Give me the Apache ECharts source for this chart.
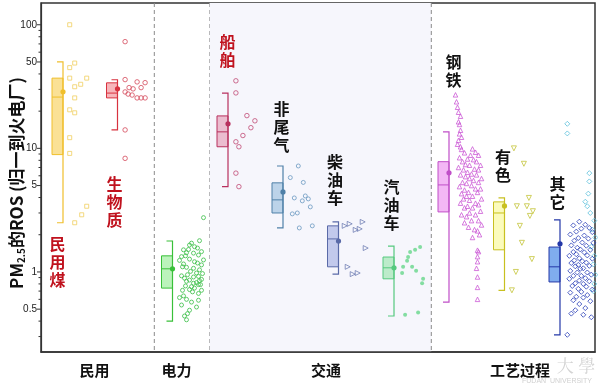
<!DOCTYPE html>
<html><head><meta charset="utf-8">
<script src="https://cdn.jsdelivr.net/npm/echarts@6/dist/echarts.min.js"></script>
<style>html,body{margin:0;padding:0;background:#fff}#c{width:598px;height:388px}</style>
</head><body><div id="c"></div>
<script>
// ---------- data ----------
const categories = ['民用煤','生物质','电力','船舶','非尾气','柴油车','汽油车','钢铁','有色','其它'];
const whiskerLow  = [2.5, 14.1, 0.40, 4.9, 2.27, 0.96, 0.44, 0.57, 0.71, 0.31];
const q1          = [8.9, 25.6, 0.74, 10.3, 3.0, 1.10, 0.88, 3.06, 1.51, 0.83];
const median      = [26, 28, 1.06, 13.6, 3.83, 1.85, 1.08, 5.06, 3.0, 1.10];
const q3          = [37, 33.9, 1.35, 18.3, 5.26, 2.36, 1.32, 7.8, 3.69, 1.59];
const whiskerHigh = [50, 35.9, 1.78, 28, 7.2, 2.54, 1.62, 13.6, 3.97, 2.64];
const means       = [28.7, 30.3, 1.06, 15.8, 4.44, 1.78, 1.08, 6.34, 3.42, 1.69];

const groupNames = ['民用','电力','交通','工艺过程'];
const groupFirst = [0, 2, 3, 7];
const groupLast  = [1, 2, 6, 9];

const yMajorTicks = [0.5, 1, 5, 10, 50, 100];
const yMajorLabels = ['0.5', '1', '5', '10', '50', '100'];
const yMinorTicks = [0.3,0.4,0.6,0.7,0.8,0.9,2,3,4,6,7,8,9,20,30,40,60,70,80,90];

// sample values per category
const ptsMinYongMei = [100, 49, 45, 37, 37, 33, 31.5, 25.6, 20.5, 19.4, 12.2, 9.1, 3.4, 2.9, 2.5];
const ptsShengWuZhi = [73, 36, 34.5, 34, 31, 30.3, 31, 28.6, 27.5, 27, 25.6, 25.6, 25.6, 14.1, 8.3];
const ptsDianLi = [2.75,1.79,1.71,1.65,1.60,1.51,1.56,1.46,1.43,1.42,1.37,1.33,1.25,1.24,1.27,1.21,1.16,1.14,1.09,1.07,
  1.04,1.01,0.98,0.95,0.93,0.91,0.87,0.86,0.84,0.82,0.79,0.76,0.74,0.72,0.71,0.67,0.64,0.62,0.60,0.59,
  0.54,0.49,0.46,0.44,0.41,0.85,0.81,0.89,0.79,0.71,1.52,1.35,1.18,1.10,0.97,0.92,0.77,0.69,0.57,0.52];
const ptsChuanBo = [35.2, 28.1, 18.4, 16.7, 14.7, 12.7, 11.3, 10.3, 6.3, 4.9];
const ptsFeiWeiQi = [7.2, 5.8, 5.3, 4.12, 3.97, 3.9, 3.76, 3.36, 3.0, 2.95, 2.36, 2.27];
const ptsChaiYou = [2.36, 2.45, 2.54, 2.19, 2.23, 1.56, 1.10, 0.96, 0.98];
const ptsQiYou = [1.59, 1.51, 1.45, 1.32, 1.23, 1.10, 0.98, 1.10, 1.02, 0.88, 0.81, 0.45, 0.47];
const ptsGangTie = [27.1,23.8,21.5,19.6,18.2,16.4,15.6,14.0,13.1,12.3,11.6,10.8,10.3,
  9.9,9.8,9.3,9.2,8.8,8.8,8.4,8.2,8.1,7.8,7.8,7.4,7.3,7.3,7.0,6.8,6.7,6.7,6.4,6.2,6.1,6.1,5.9,5.7,5.7,5.5,5.3,
  5.3,5.2,5.0,4.9,4.7,4.7,4.6,4.4,4.4,4.3,4.1,4.1,3.9,3.9,3.8,3.6,3.6,3.5,3.4,3.3,3.3,3.1,3.0,2.9,2.9,2.8,2.6,
  2.6,2.5,2.4,2.3,2.2,2.15,2.0,1.9,1.5,1.46,1.33,1.21,1.07,0.91,0.75,0.6];
const ptsYouSe = [10, 7.5, 3.4, 3.4, 3.97, 3.1, 2.84, 2.36, 1.72, 1.27, 1.0, 0.71];
const ptsQiTaDark = [2.55,2.41,2.38,2.27,2.24,2.12,2.10,2.01,1.97,1.88,1.86,1.79,1.73,1.72,1.64,1.63,1.57,1.52,1.51,1.45,
  1.44,1.39,1.36,1.35,1.29,1.28,1.24,1.22,1.19,1.18,1.14,1.12,1.11,1.07,1.06,1.02,0.99,0.99,0.95,0.93,
  0.93,0.89,0.88,0.85,0.84,0.81,0.80,0.77,0.76,0.73,0.72,0.69,0.68,0.65,0.63,0.62,0.59,0.58,0.55,0.51,
  0.49,0.46,0.45,0.43,0.31];
const ptsQiTaLight = [15.8, 13.2, 6.3, 5.4, 4.3, 3.7, 3.4, 3.0, 2.6, 2.2, 1.9, 1.6, 1.35, 1.15, 0.95, 0.8, 0.7];

// ---------- layout (pixel jitter of the strip points, label placement) ----------
const jitMinYongMei = [1,6,1,1,18,12,6,6,1,6,1,1,18,13,6];
const jitShengWuZhi = [1,1,13,21,5,9,17,1,4,8,13,17,21,1,1];
const jitDianLi = [24,20,12,10,15,4,18,22,7,14,19,2,24,0,10,15,4,22,7,14,20,11,17,8,2,14,22,10,7,17,
  19,12,15,10,22,19,4,0,7,19,2,10,8,5,7,20,14,5,21,3,9,6,18,3,23,19,6,13,12,17];
const jitChuanBo = [1,1,12,20,16,8,1,4,1,4];
const jitFeiWeiQi = [8,0,13,15,4,18,12,20,7,2,22,9];
const jitChaiYou = [-1,4,17,10,14,20,2,7,12];
const jitQiYou = [19,14,9,7,6,2,1,11,15,22,21,4,17];
const jitGangTie = [-1,0,1,2,4,2,3,4,3,5,2,1,4,
  16,5,19,8,14,22,3,11,17,6,20,9,24,13,2,18,7,22,11,15,4,20,9,25,13,17,6,22,10,15,3,19,24,8,12,21,5,16,10,25,7,
  13,19,4,22,11,16,8,24,13,5,19,10,22,15,8,25,12,18,21,23,16,21,22,21,21,20,21,21,21];
const jitYouSe = [2,12,5,15,17,21,18,8,10,20,4,0];
const jitQiTaDark = [12,18,6,22,14,9,25,3,17,11,21,7,15,26,4,19,10,13,23,6,17,9,20,2,12,25,7,15,19,4,
  11,22,8,16,13,3,20,10,24,6,14,18,2,12,22,8,16,5,19,11,25,14,3,20,9,16,6,23,12,18,8,4,16,24,0];
const jitQiTaLight = [0,0,22,22,21,18,20,23,27,25,28,24,27,26,28,27,26];

const catLabelText = ['民\n用\n煤','生\n物\n质',null,'船\n舶','非\n尾\n气','柴\n油\n车','汽\n油\n车','钢\n铁','有\n色','其\n它'];
const catLabelTop  = [2.0, 6.1, null, 86, 24.7, 9.2, 5.8, 59, 10.1, 6.1];
const catLabelDx   = [0, 2.5, 0, 5, 4, 2, 3, 10, 4, 3];
const catLabelRed  = [true, true, false, true, false, false, false, false, false, false];

const BOX_SHIFT = [-11.2, -12.1, -12.5, -12.4, -12.8, -12.7, -12.6, -13, -12.9, -12.8];
const BOX_HALF = 5.5;
const lineColors = ['#f0bf2c','#d8323f','#39c039','#b8305e','#4f80a8','#5a6aa8','#55c97e','#c04fc8','#c8c020','#2438a8'];
const fillColors = ['rgba(247,205,80,0.6)','rgba(240,120,130,0.55)','rgba(120,232,120,0.5)','rgba(225,140,170,0.55)',
  'rgba(150,188,220,0.6)','rgba(160,172,225,0.6)','rgba(150,228,168,0.6)','rgba(236,145,240,0.65)',
  'rgba(250,250,165,0.75)','rgba(85,145,232,0.75)'];

const FONT = '"Noto Sans CJK SC", "Liberation Sans", sans-serif';

function strip(name, idx, vals, jit, symbol, size, color, opts) {
  opts = opts || {};
  return {
    type: 'scatter', name: name, z: 3,
    symbol: symbol, symbolSize: size, symbolRotate: opts.rotate || 0,
    itemStyle: opts.filled ? { color: color, opacity: 0.85 } :
      { color: 'rgba(255,255,255,0)', borderColor: color, borderWidth: 1 },
    emphasis: { disabled: true },
    data: vals.map((v, k) => ({ value: [idx, v], symbolOffset: [(jit[k] != null ? jit[k] : 10), 0] }))
  };
}

const chart = echarts.init(document.getElementById('c'), null, { renderer: 'canvas' });

const option = {
  animation: false,
  backgroundColor: '#fff',
  grid: { left: 41, right: 3, top: 3, bottom: 36, show: true, borderColor: '#333', borderWidth: 1.5 },
  xAxis: {
    type: 'category', data: categories, boundaryGap: true,
    axisLine: { show: true, lineStyle: { color: '#333', width: 1.5 } },
    axisTick: { show: false }, axisLabel: { show: false }, splitLine: { show: false }
  },
  yAxis: {
    type: 'log', logBase: 10, min: 0.225, max: 150,
    axisLine: { show: true, lineStyle: { color: '#333', width: 1.2 } },
    axisTick: { show: false }, axisLabel: { show: false }, splitLine: { show: false }, minorTick: { show: false }
  },
  graphic: [
    { type: 'text', x: 17, y: 183, rotation: Math.PI / 2,
      style: { text: '{a|PM}{s|2.5}{a|的ROS (归一到火电厂)}', align: 'center', verticalAlign: 'middle',
        rich: { a: { fontSize: 17, fontWeight: 'bold', fontFamily: FONT, fill: '#111' },
                s: { fontSize: 10, fontWeight: 'bold', fontFamily: FONT, fill: '#111', verticalAlign: 'bottom', padding: [9, 0, 0, 0] } } } },
    { type: 'text', x: 576, y: 366, style: { text: '大 學', align: 'center', verticalAlign: 'middle', fontSize: 17, fontFamily: '"Noto Serif CJK SC", serif', fill: '#d4d4d4' } },
    { type: 'text', x: 557, y: 381, style: { text: 'FUDAN  UNIVERSITY', align: 'center', verticalAlign: 'middle', fontSize: 7, fontFamily: 'Liberation Sans', fill: '#d0d0d0' } }
  ],
  series: [
    {
      type: 'custom', name: 'sections', z: 0, silent: true, clip: false,
      data: groupNames.map((g, k) => [groupFirst[k], groupLast[k], k]),
      encode: { x: [0, 1] },
      renderItem(params, api) {
        const cs = params.coordSys;
        const bw = api.size([1, 1])[0];
        const first = api.value(0), last = api.value(1), k = api.value(2);
        const left = api.coord([first, 1])[0] - bw / 2 + 2.5;
        const right = api.coord([last, 1])[0] + bw / 2 + 2.5;
        const children = [];
        if (groupNames[k] === '交通') {
          children.push({ type: 'rect', shape: { x: left, y: cs.y, width: right - left, height: cs.height }, style: { fill: '#f6f6fc' } });
        }
        if (k < groupNames.length - 1) {
          children.push({ type: 'line', shape: { x1: right, y1: cs.y, x2: right, y2: cs.y + cs.height },
            style: { stroke: '#8a8a8a', lineWidth: 1, lineDash: [4, 3] } });
        }
        const cx = (api.coord([first, 1])[0] - bw / 2 + api.coord([last, 1])[0] + bw / 2) / 2;
        const shift = [-2, -3, 8, 8][k];
        children.push({ type: 'text', style: { x: cx + shift, y: cs.y + cs.height + 18, text: groupNames[k], align: 'center', verticalAlign: 'middle',
          fontSize: 15, fontWeight: 'bold', fontFamily: FONT, fill: '#111' } });
        return { type: 'group', children };
      }
    },
    {
      type: 'custom', name: 'yticks', z: 4, silent: true, clip: false,
      data: yMajorTicks.map((v, k) => [0, v, k, 1]).concat(yMinorTicks.map(v => [0, v, -1, 0])),
      encode: { x: 0, y: 1 },
      renderItem(params, api) {
        const cs = params.coordSys;
        const y = api.coord([0, api.value(1)])[1];
        const major = api.value(3) === 1;
        const ch = [{ type: 'line', shape: { x1: cs.x - (major ? 4 : 2.5), y1: y, x2: cs.x, y2: y }, style: { stroke: '#333', lineWidth: 1 } }];
        if (major) ch.push({ type: 'text', style: { x: cs.x - 4, y: y, text: yMajorLabels[api.value(2)], align: 'right', verticalAlign: 'middle',
          fontSize: 10, fontFamily: 'Liberation Sans', fill: '#222' } });
        return { type: 'group', children: ch };
      }
    },
    {
      type: 'custom', name: 'boxes', z: 2, silent: true,
      data: categories.map((c, i) => [i, whiskerLow[i], q1[i], median[i], q3[i], whiskerHigh[i], means[i]]),
      encode: { x: 0, y: [1, 2, 3, 4, 5, 6] },
      renderItem(params, api) {
        const i = api.value(0);
        const cx = api.coord([i, 1])[0] + BOX_SHIFT[i];
        const yy = d => api.coord([i, api.value(d)])[1];
        const yWl = yy(1), yQ1 = yy(2), yMed = yy(3), yQ3 = yy(4), yWh = yy(5), yMean = yy(6);
        const xr = cx + BOX_HALF;
        const c = lineColors[i];
        return { type: 'group', children: [
          { type: 'rect', shape: { x: cx - BOX_HALF, y: yQ3, width: BOX_HALF * 2, height: yQ1 - yQ3 }, style: { fill: fillColors[i], stroke: c, lineWidth: 1 } },
          { type: 'line', shape: { x1: cx - BOX_HALF, y1: yMed, x2: xr, y2: yMed }, style: { stroke: c, lineWidth: 1 } },
          { type: 'polyline', shape: { points: [[xr - 6, yWh], [xr, yWh], [xr, yWl], [xr - 6, yWl]] }, style: { stroke: c, fill: null, lineWidth: 1.2 } },
          { type: 'circle', shape: { cx: xr, cy: yMean, r: 2.6 }, style: { fill: c } }
        ] };
      }
    },
    {
      type: 'custom', name: 'catLabels', z: 5, silent: true, clip: false,
      data: categories.map((c, i) => [i, catLabelTop[i] || 1]).filter((d, i) => catLabelText[i]),
      encode: { x: 0, y: 1 },
      renderItem(params, api) {
        const i = api.value(0);
        const p = api.coord([i, api.value(1)]);
        return { type: 'text', style: { x: p[0] + BOX_SHIFT[i] + catLabelDx[i], y: p[1], text: catLabelText[i], align: 'center', verticalAlign: 'top',
          fontSize: 16, lineHeight: 18, fontWeight: 'bold', fontFamily: FONT, fill: catLabelRed[i] ? '#c0121e' : '#111' } };
      }
    },
    strip('民用煤', 0, ptsMinYongMei, jitMinYongMei, 'rect', 4, '#f0cf60'),
    strip('生物质', 1, ptsShengWuZhi, jitShengWuZhi, 'circle', 4.5, '#d4485a'),
    strip('电力', 2, ptsDianLi, jitDianLi, 'circle', 4, '#3cbf48'),
    strip('船舶', 3, ptsChuanBo, jitChuanBo, 'circle', 4.5, '#c04a74'),
    strip('非尾气', 4, ptsFeiWeiQi, jitFeiWeiQi, 'circle', 4, '#6a98c0'),
    strip('柴油车', 5, ptsChaiYou, jitChaiYou, 'triangle', 5, '#7080b4', { rotate: -90 }),
    strip('汽油车', 6, ptsQiYou, jitQiYou, 'circle', 4, '#6fd890', { filled: true }),
    strip('钢铁', 7, ptsGangTie, jitGangTie, 'triangle', 4.5, '#cc5ad6'),
    strip('有色', 8, ptsYouSe, jitYouSe, 'triangle', 5, '#c4c43a', { rotate: 180 }),
    strip('其它', 9, ptsQiTaLight, jitQiTaLight, 'diamond', 5, '#5cc0dc'),
    strip('其它', 9, ptsQiTaDark, jitQiTaDark, 'diamond', 5, '#2a40b8')
  ]
};
chart.setOption(option);
</script>
</body></html>
